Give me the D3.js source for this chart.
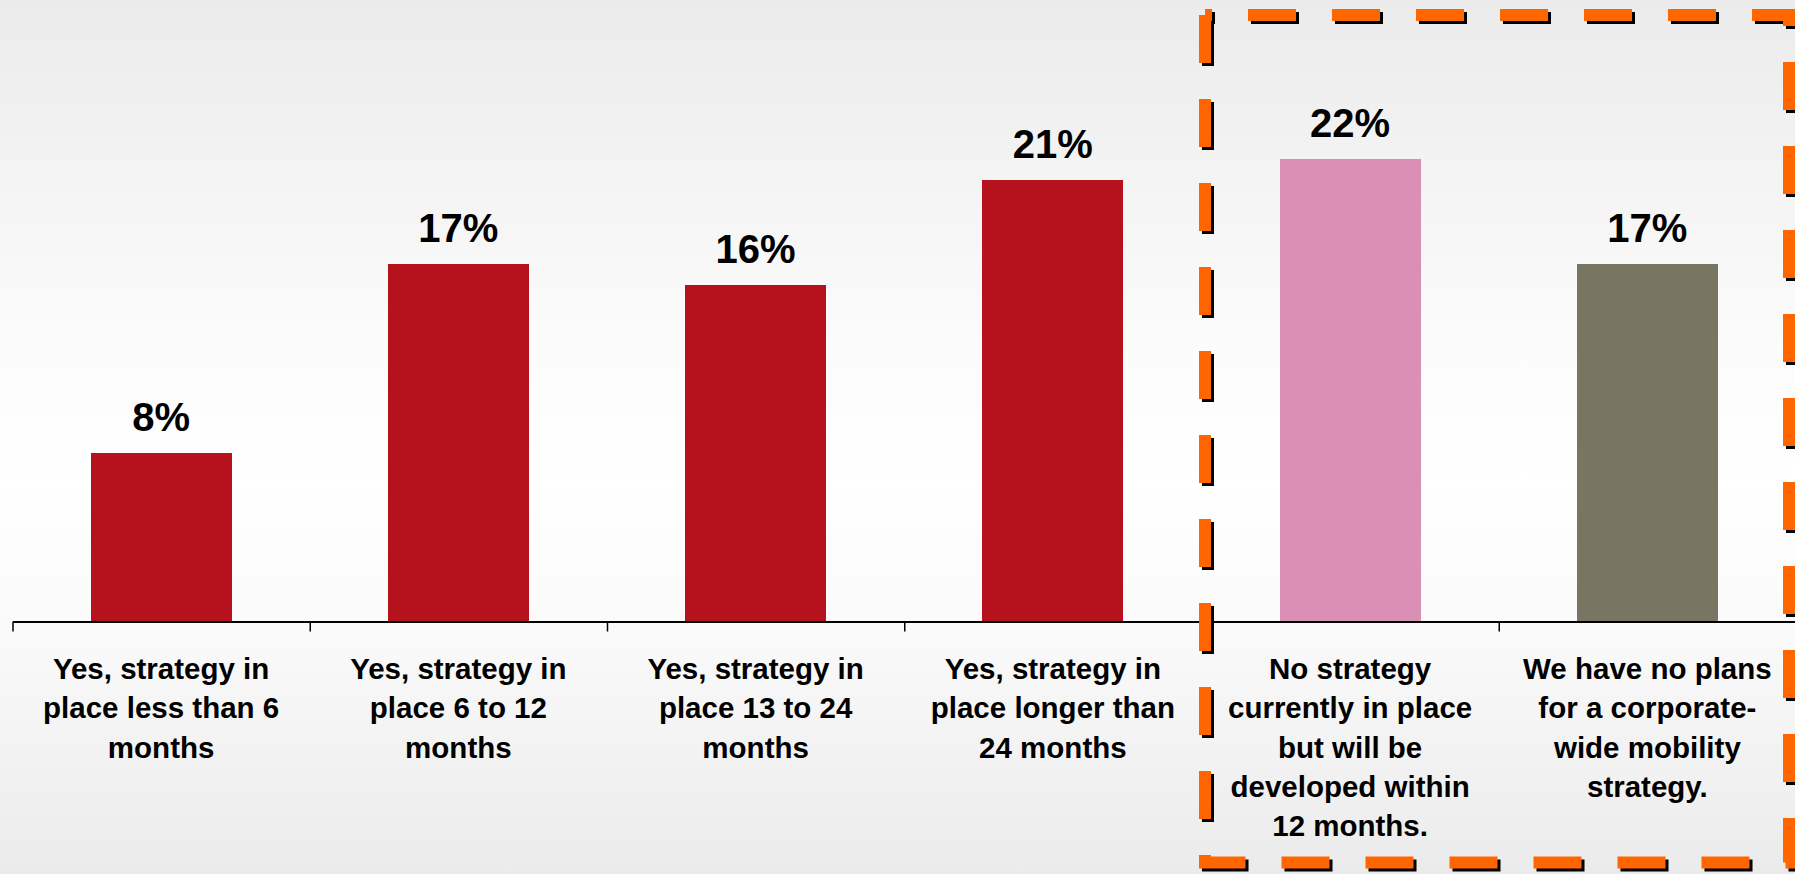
<!DOCTYPE html>
<html>
<head>
<meta charset="utf-8">
<script src="https://cdn.jsdelivr.net/npm/d3@7"></script>
<style>
  html, body { margin: 0; padding: 0; overflow: hidden; }
  svg { display: block; }
  text { font-family: "Liberation Sans", Arial, sans-serif; font-weight: bold; fill: #000; }
</style>
</head>
<body>
<script>
// Survey answers: does the company have a corporate-wide mobility strategy?
const categoryLines = [
  ["Yes, strategy in", "place less than 6", "months"],
  ["Yes, strategy in", "place 6 to 12", "months"],
  ["Yes, strategy in", "place 13 to 24", "months"],
  ["Yes, strategy in", "place longer than", "24 months"],
  ["No strategy", "currently in place", "but will be", "developed within", "12 months."],
  ["We have no plans", "for a corporate-", "wide mobility", "strategy."]
];
const categories = categoryLines.map(l => l.join(" "));
const values = [8, 17, 16, 21, 22, 17];
const barColors = ["#b5121d", "#b5121d", "#b5121d", "#b5121d", "#da8fb4", "#787660"];

const W = 1795, H = 874;
const svg = d3.select("body").append("svg").attr("width", W).attr("height", H);

// soft grey-white-grey backdrop
const defs = svg.append("defs");
const grad = defs.append("linearGradient").attr("id", "bg").attr("x1", 0).attr("y1", 0).attr("x2", 0).attr("y2", 1);
[[0, "#ebebeb"], [0.38, "#fbfbfb"], [0.55, "#ffffff"], [0.72, "#fafafa"], [1, "#ebebeb"]]
  .forEach(([o, c]) => grad.append("stop").attr("offset", o).attr("stop-color", c));
svg.append("rect").attr("width", W).attr("height", H).attr("fill", "url(#bg)");

const axisY = 621.5;
const left = 12.5, right = 1796;
const x = d3.scaleBand().domain(categories).range([left, right])
  .paddingInner(0.525).paddingOuter(0.2625);
const pxPerPct = 21.04;
const y = d3.scaleLinear().domain([0, 30]).range([axisY, axisY - 30 * pxPerPct]);

// bars
svg.append("g").selectAll("rect").data(values).join("rect")
  .attr("x", (d, i) => x(categories[i]))
  .attr("y", d => y(d))
  .attr("width", x.bandwidth())
  .attr("height", d => y(0) - y(d))
  .attr("fill", (d, i) => barColors[i])
  .attr("shape-rendering", "crispEdges");

// value labels
svg.append("g").selectAll("text").data(values).join("text")
  .attr("x", (d, i) => x(categories[i]) + x.bandwidth() / 2)
  .attr("y", d => y(d) - 22)
  .attr("text-anchor", "middle")
  .style("font-size", "40px")
  .text(d => d + "%");

// category axis with ticks between bands
const xEdges = d3.scaleLinear().domain([0, categories.length]).range([left, right]);
const axis = d3.axisBottom(xEdges)
  .tickValues(d3.range(categories.length + 1))
  .tickFormat("")
  .tickSize(10)
  .tickSizeOuter(0);
const gAxis = svg.append("g").attr("transform", `translate(0,${axisY})`).call(axis);
gAxis.select(".domain").attr("stroke", "#000").attr("stroke-width", 2);
gAxis.selectAll(".tick line").attr("stroke", "#000").attr("stroke-width", 1.5);

// multi-line category labels
const labels = svg.append("g").selectAll("text").data(categoryLines).join("text")
  .attr("text-anchor", "middle")
  .style("font-size", "29.5px");
labels.each(function (lines, i) {
  const cx = x(categories[i]) + x.bandwidth() / 2;
  d3.select(this).selectAll("tspan").data(lines).join("tspan")
    .attr("x", cx)
    .attr("y", (l, j) => 679 + j * 39.3)
    .text(l => l);
});

// dashed highlight frame around the "no strategy" answers, with a drop shadow
const frame = d3.path();
const fx0 = 1205, fy0 = 15, fx1 = 1789, fy1 = 862.5;
frame.moveTo(fx0, fy0);
frame.lineTo(fx0, fy1);
frame.lineTo(fx1, fy1);
frame.lineTo(fx1, fy0);
frame.lineTo(fx0, fy0);
const frameStyle = sel => sel
  .attr("d", frame.toString())
  .attr("fill", "none")
  .attr("stroke-width", 12)
  .attr("stroke-dasharray", "48 36")
  .attr("stroke-linejoin", "miter")
  .attr("stroke-linecap", "butt");
svg.append("path").call(frameStyle).attr("stroke", "#000").attr("transform", "translate(3,3)");
svg.append("path").call(frameStyle).attr("stroke", "#ff6600");
</script>
</body>
</html>
